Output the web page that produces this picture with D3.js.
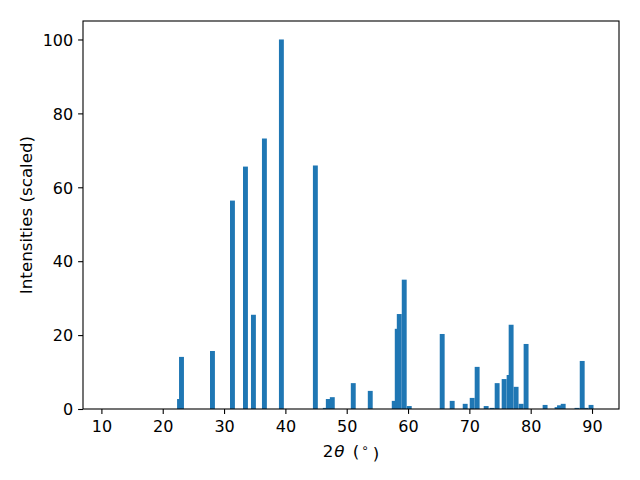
<!DOCTYPE html>
<html>
<head>
<meta charset="utf-8">
<script src="https://cdn.jsdelivr.net/npm/d3@7"></script>
<style>
  body { margin: 0; background: #fff; }
  text { font-family: "DejaVu Sans", sans-serif; fill: #000; }
  .axis path { display: none; }
  .axis line { stroke: #000; stroke-width: 1.1; }
  .axis text { font-size: 16px; }
</style>
</head>
<body>
<script>
// peak positions (2theta, degrees)
var twoTheta = [22.74, 23.06, 28.11, 31.37, 33.49, 34.79, 36.58, 39.35,
    44.89, 46.51, 47.0, 47.65, 51.07, 53.84, 57.75, 58.24, 58.57, 59.38, 60.2,
    65.57, 67.2, 69.32, 70.46, 71.27, 72.74, 73.71, 74.53, 75.67, 76.48, 76.81,
    77.62, 78.44, 79.25, 82.35, 84.3, 84.7, 85.3, 87.55, 88.4, 89.0, 89.84];
// scaled intensities, same order
var intensity = [2.7, 14.1, 15.7, 56.4, 65.6, 25.5, 73.2, 100,
    65.9, 0.3, 2.7, 3.2, 7.0, 4.9, 2.2, 21.7, 25.7, 35.0, 0.8,
    20.3, 2.2, 1.4, 3.0, 11.4, 0.8, 0.3, 7.0, 8.1, 9.2, 22.8,
    6.0, 1.4, 17.6, 1.1, 0.5, 1.0, 1.4, 0.3, 13.0, 0.3, 1.1];
var xTicks = [10, 20, 30, 40, 50, 60, 70, 80, 90];
var yTicks = [0, 20, 40, 60, 80, 100];

(function () {
    var barWidth = 0.8; // in degrees

    // plot frame (matches the tight layout of the original)
    var width = 640, height = 480;
    var plotLeft = 83, plotRight = 619, plotTop = 21, plotBottom = 409;

    var svg = d3.select("body").append("svg")
        .attr("width", width)
        .attr("height", height);

    var x = d3.scaleLinear().domain([7.0, 94.4]).range([plotLeft, plotRight]);
    var y = d3.scaleLinear().domain([0, 105]).range([plotBottom, plotTop]);

    var peaks = twoTheta.map(function (t, i) { return { t: t, v: intensity[i] }; });

    // bars
    svg.append("g").selectAll("rect")
        .data(peaks)
        .enter()
        .append("rect")
        .attr("x", function (d) { return x(d.t - barWidth / 2); })
        .attr("width", function (d) { return x(d.t + barWidth / 2) - x(d.t - barWidth / 2); })
        .attr("y", function (d) { return y(d.v); })
        .attr("height", function (d) { return y(0) - y(d.v); })
        .attr("fill", "#1f77b4");

    // axes
    svg.append("g")
        .attr("class", "axis")
        .attr("transform", "translate(0," + plotBottom + ")")
        .call(d3.axisBottom(x).tickValues(xTicks).tickSize(4.9).tickPadding(3.5))
        .selectAll("text").attr("dy", "0.9em");

    svg.append("g")
        .attr("class", "axis")
        .attr("transform", "translate(" + plotLeft + ",0)")
        .call(d3.axisLeft(y).tickValues(yTicks).tickSize(4.9).tickPadding(4.9))
        .selectAll("text").attr("dy", "0.36em");

    // frame
    svg.append("rect")
        .attr("x", plotLeft)
        .attr("y", plotTop)
        .attr("width", plotRight - plotLeft)
        .attr("height", plotBottom - plotTop)
        .attr("fill", "none")
        .attr("stroke", "#000")
        .attr("stroke-width", 1.1);

    // axis labels
    var xl = svg.append("text")
        .attr("x", (plotLeft + plotRight) / 2)
        .attr("y", 457)
        .attr("text-anchor", "middle")
        .style("font-size", "16.7px");
    xl.append("tspan").text("2");
    xl.append("tspan").attr("dx", "1").style("font-style", "italic").text("θ");
    xl.append("tspan").attr("dx", "3").text(" (");
    xl.append("tspan").attr("dx", "2").attr("dy", "-0.45em").style("font-size", "12px").text("∘");
    xl.append("tspan").attr("dx", "4").attr("dy", "0.45em").text(")");

    svg.append("text")
        .attr("transform", "translate(32," + (plotTop + plotBottom) / 2 + ") rotate(-90)")
        .attr("text-anchor", "middle")
        .style("font-size", "16.7px")
        .text("Intensities (scaled)");
})();
</script>
</body>
</html>
